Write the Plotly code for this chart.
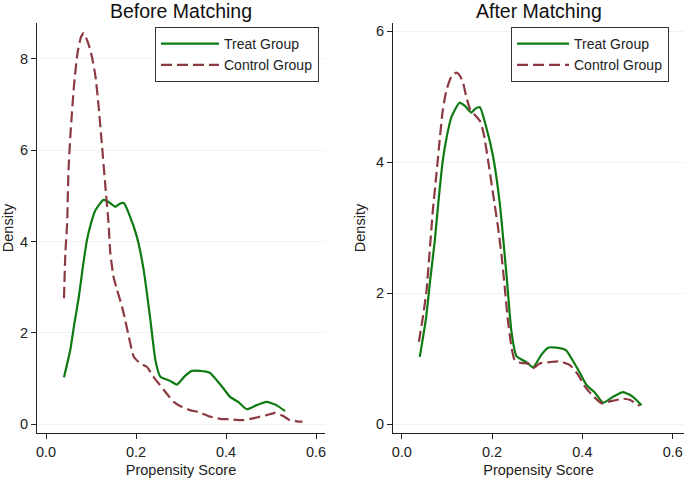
import plotly.graph_objects as go

# ---- data ----
treat_x = [0.040, 0.054, 0.063, 0.073, 0.082, 0.091, 0.100, 0.110, 0.128, 0.140, 0.154, 0.163, 0.173,
           0.187, 0.202, 0.217, 0.232, 0.243, 0.254, 0.265, 0.276, 0.291, 0.309, 0.324, 0.342,
           0.364, 0.379, 0.394, 0.409, 0.427, 0.446, 0.468, 0.490, 0.512, 0.531]
treat_y = [1.03, 1.63, 2.20, 2.79, 3.45, 4.03, 4.40, 4.69, 4.91, 4.86, 4.76, 4.82, 4.84,
           4.54, 4.10, 3.38, 2.28, 1.41, 1.04, 0.99, 0.95, 0.87, 1.06, 1.17, 1.17,
           1.13, 0.97, 0.79, 0.60, 0.49, 0.33, 0.42, 0.49, 0.42, 0.29]

ctrl_before_x = [0.040, 0.043, 0.047, 0.050, 0.054, 0.062, 0.070, 0.078, 0.084, 0.095, 0.102,
                 0.110, 0.117, 0.124, 0.132, 0.139, 0.143, 0.150, 0.158, 0.169, 0.176, 0.184,
                 0.195, 0.210, 0.224, 0.239, 0.262, 0.284, 0.298, 0.320, 0.342, 0.364, 0.387,
                 0.409, 0.438, 0.468, 0.490, 0.509, 0.527, 0.542, 0.561, 0.570]
ctrl_before_y = [2.76, 3.74, 4.40, 5.56, 6.29, 7.39, 8.12, 8.48, 8.56, 8.30, 8.04,
                 7.61, 6.95, 6.15, 5.20, 4.40, 3.74, 3.23, 2.94, 2.57, 2.28, 1.92,
                 1.48, 1.33, 1.26, 1.04, 0.75, 0.49, 0.40, 0.31, 0.26, 0.17, 0.12,
                 0.11, 0.09, 0.15, 0.20, 0.25, 0.18, 0.09, 0.06, 0.06]

ctrl_after_x = [0.038, 0.047, 0.055, 0.061, 0.069, 0.077, 0.084, 0.091, 0.099, 0.110, 0.121,
                0.128, 0.136, 0.143, 0.152, 0.165, 0.174, 0.182, 0.191, 0.202, 0.213, 0.221,
                0.228, 0.235, 0.243, 0.250, 0.262, 0.283, 0.291, 0.306, 0.328, 0.351, 0.373,
                0.391, 0.406, 0.424, 0.443, 0.461, 0.491, 0.506, 0.527]
ctrl_after_y = [1.26, 1.64, 2.05, 2.56, 3.27, 3.83, 4.34, 4.80, 5.10, 5.31, 5.37,
                5.33, 5.21, 5.00, 4.80, 4.70, 4.62, 4.42, 4.04, 3.53, 3.02, 2.58,
                2.10, 1.59, 1.18, 0.98, 0.94, 0.92, 0.86, 0.93, 0.95, 0.96, 0.90,
                0.75, 0.57, 0.43, 0.32, 0.35, 0.39, 0.37, 0.28]

x_ticks = [0.0, 0.2, 0.4, 0.6]
y_ticks_before = [0, 2, 4, 6, 8]
y_ticks_after = [0, 2, 4, 6]
titles = ["Before Matching", "After Matching"]

GREEN = "#0e7a12"
MAROON = "#8c3a42"
FONT = "Liberation Sans, Arial, sans-serif"
W, H = 685, 480

fig = go.Figure()

def add_pair(ctrl_x, ctrl_y, xa, ya, legend, show):
    fig.add_trace(go.Scatter(x=treat_x, y=treat_y, mode="lines", name="Treat Group",
                             line=dict(color=GREEN, width=2.2, shape="spline", smoothing=0.5),
                             xaxis=xa, yaxis=ya, legend=legend, showlegend=show))
    fig.add_trace(go.Scatter(x=ctrl_x, y=ctrl_y, mode="lines", name="Control Group",
                             line=dict(color=MAROON, width=2.2, dash="11px,5px",
                                       shape="spline", smoothing=0.5),
                             xaxis=xa, yaxis=ya, legend=legend, showlegend=show))

add_pair(ctrl_before_x, ctrl_before_y, "x", "y", "legend", True)
add_pair(ctrl_after_x, ctrl_after_y, "x2", "y2", "legend2", True)

def px_x(p):
    return p / W

def px_y(p):
    return 1 - p / H

ydom = [px_y(433), px_y(23)]
axis_common = dict(showline=True, linecolor="#222", linewidth=1.2, ticks="outside",
                   ticklen=5, tickcolor="#222", tickfont=dict(size=14.5, color="#222", family=FONT),
                   zeroline=False, automargin=False)

fig.update_layout(
    width=W, height=H, margin=dict(l=0, r=0, t=0, b=0, autoexpand=False),
    paper_bgcolor="white", plot_bgcolor="white",
    font=dict(family=FONT, color="#222"),
    xaxis=dict(domain=[px_x(37), px_x(325)], range=[-0.02, 0.62], tickvals=x_ticks,
               tickformat=".1f", showgrid=False, anchor="y",
               title=dict(text="Propensity Score", font=dict(size=14.5), standoff=6), **axis_common),
    yaxis=dict(domain=ydom, range=[-0.19, 8.78], tickvals=y_ticks_before, showgrid=True,
               gridcolor="#eef3f4", gridwidth=1, anchor="x",
               title=dict(text="Density", font=dict(size=14.5), standoff=6), **axis_common),
    xaxis2=dict(domain=[px_x(393), px_x(684)], range=[-0.0193, 0.625], tickvals=x_ticks,
                tickformat=".1f", showgrid=False, anchor="y2",
                title=dict(text="Propensity Score", font=dict(size=14.5), standoff=6), **axis_common),
    yaxis2=dict(domain=ydom, range=[-0.133, 6.127], tickvals=y_ticks_after, showgrid=True,
                gridcolor="#eef3f4", gridwidth=1, anchor="x2",
                title=dict(text="Density", font=dict(size=14.5), standoff=6), **axis_common),
    legend=dict(x=px_x(155), y=px_y(27), xanchor="left", yanchor="top",
                bordercolor="#333", borderwidth=1, bgcolor="white",
                font=dict(size=14, color="#222"), itemwidth=58, tracegroupgap=0),
    legend2=dict(x=px_x(511), y=px_y(27), xanchor="left", yanchor="top",
                 bordercolor="#333", borderwidth=1, bgcolor="white",
                 font=dict(size=14, color="#222"), itemwidth=52, tracegroupgap=0),
    annotations=[
        dict(text=titles[0], x=(px_x(37) + px_x(325)) / 2, y=px_y(11), xref="paper", yref="paper",
             showarrow=False, font=dict(size=19.5, color="#111"), xanchor="center", yanchor="middle"),
        dict(text=titles[1], x=(px_x(393) + px_x(684)) / 2, y=px_y(11), xref="paper", yref="paper",
             showarrow=False, font=dict(size=19.5, color="#111"), xanchor="center", yanchor="middle"),
    ],
)

fig.write_html("out.html", config={"displayModeBar": False},
               post_script="document.body.style.margin='0';document.body.style.overflow='hidden';")
